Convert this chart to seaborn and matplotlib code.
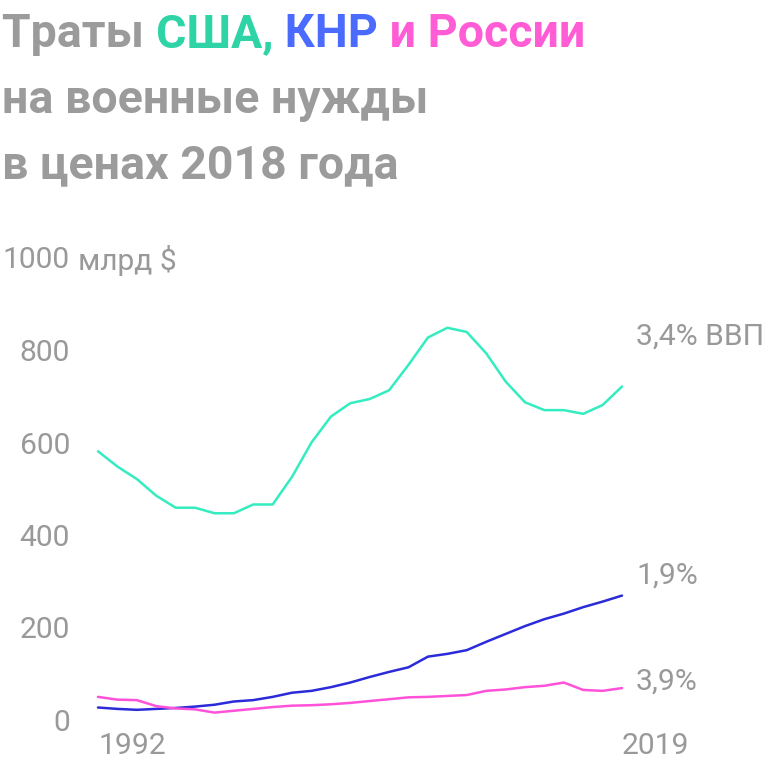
import pandas as pd
import matplotlib.pyplot as plt
import seaborn as sns

# --- DATA (млрд $, цены 2018 года) ---
years = list(range(1992, 2020))
usa = [581, 548, 521, 485, 459, 459, 447, 447, 466, 466, 526, 600, 656, 685,
       694, 713, 768, 827, 848, 839, 793, 732, 687, 670, 670, 662, 681, 721]
china = [27, 24, 22, 24, 26, 29, 33, 40, 43, 50, 59, 63, 71, 81,
         93, 104, 114, 137, 143, 151, 169, 186, 203, 218, 230, 244, 256, 269]
russia = [50, 44, 43, 30, 25, 23, 16, 20, 24, 28, 31, 32, 34, 37,
          41, 45, 49, 50, 52, 54, 63, 66, 71, 74, 81, 65, 63, 69]
end_labels = {"США": "3,4% ВВП", "КНР": "1,9%", "Россия": "3,9%"}
yticks = [0, 200, 400, 600, 800, 1000]

# --- STYLE ---
GRAY = "#999999"
TITLE_GRAY = "#9B9B9B"
line_colors = {"США": "#33EDC0", "КНР": "#2B2BD9", "Россия": "#FF52D9"}
title_colors = {"США": "#2ED3A6", "КНР": "#4B6BFF", "Россия": "#FF5CD6"}
label_offsets = {"США": 50, "КНР": 20, "Россия": 6}

df = pd.concat([
    pd.DataFrame({"year": years, "value": usa, "country": "США"}),
    pd.DataFrame({"year": years, "value": china, "country": "КНР"}),
    pd.DataFrame({"year": years, "value": russia, "country": "Россия"}),
])

sns.set_theme(style="white")
plt.rcParams["font.family"] = ["Roboto", "DejaVu Sans"]

fig = plt.figure(figsize=(768 / 72, 768 / 72), dpi=72)
ax = fig.add_axes([98 / 768, 48 / 768, 524 / 768, 462.5 / 768])

sns.lineplot(data=df, x="year", y="value", hue="country", palette=line_colors,
             linewidth=2.5, legend=False, ax=ax, clip_on=False)

ax.set_xlim(1992, 2019)
ax.set_ylim(0, 1000)
sns.despine(ax=ax, left=True, bottom=True)
ax.set_xlabel("")
ax.set_ylabel("")

ax.set_yticks(yticks)
ax.set_yticklabels([str(t) for t in yticks], fontsize=30, color=GRAY)
ax.tick_params(axis="y", length=0, pad=28)
ax.set_xticks([years[0], years[-1]])
ax.set_xticklabels([str(years[0]), str(years[-1])], fontsize=30, color=GRAY,
                   ha="left")
ax.tick_params(axis="x", length=0, pad=12)

# unit after the top tick
ax.annotate("млрд $", xy=(0, 1000), xycoords=("axes fraction", "data"),
            xytext=(-20, 0), textcoords="offset points", fontsize=30,
            color=GRAY, va="center_baseline", ha="left")

# labels at the end of each line
for name, vals in [("США", usa), ("КНР", china), ("Россия", russia)]:
    ax.annotate(end_labels[name], xy=(years[-1], vals[-1]),
                xytext=(14, label_offsets[name]), textcoords="offset points",
                fontsize=30, color=GRAY, va="center", ha="left",
                annotation_clip=False)

# multi-coloured title
title_lines = [
    [("Траты ", TITLE_GRAY), ("США,", title_colors["США"]),
     (" КНР", title_colors["КНР"]), (" и России", title_colors["Россия"])],
    [("на военные нужды", TITLE_GRAY)],
    [("в ценах 2018 года", TITLE_GRAY)],
]
renderer = fig.canvas.get_renderer()
baseline = 768 - 47
for parts in title_lines:
    x = 2
    for txt, col in parts:
        t = fig.text(x / 768, baseline / 768, txt, fontsize=46.5, fontweight="bold",
                     color=col, ha="left", va="baseline")
        x = t.get_window_extent(renderer).x1
    baseline -= 65.5

fig.savefig("out.png", dpi=72)
